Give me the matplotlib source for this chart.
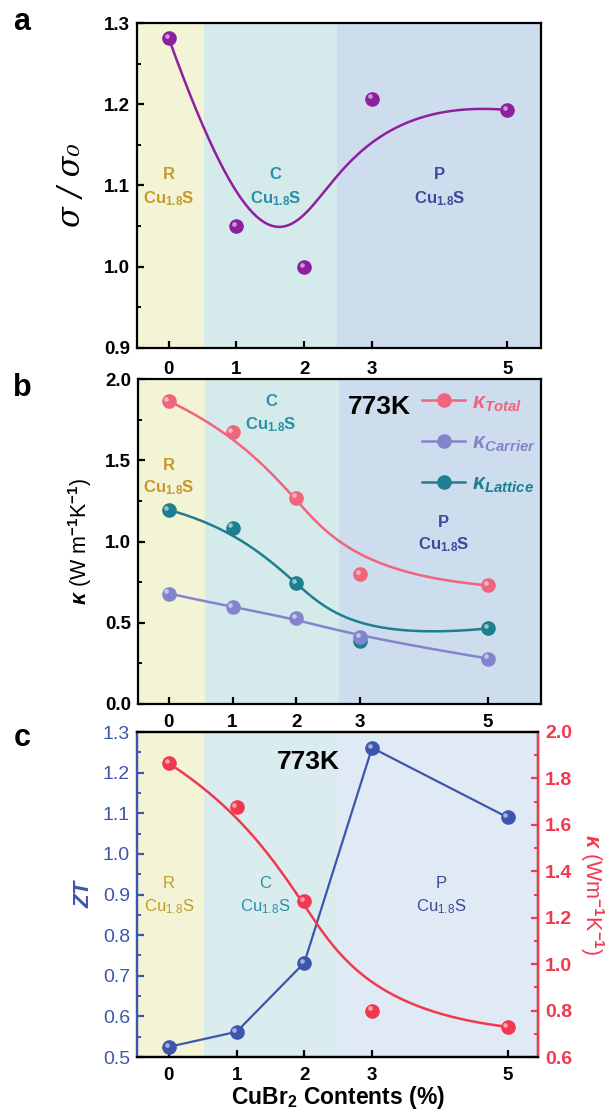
import numpy as np
import matplotlib
matplotlib.use("Agg")
from matplotlib import pyplot as plt
from matplotlib.lines import Line2D
from matplotlib.transforms import ScaledTranslation

plt.rcParams["font.family"] = ["Liberation Sans", "DejaVu Sans"]
plt.rcParams["font.weight"] = "bold"
plt.rcParams["mathtext.fontset"] = "custom"
plt.rcParams["mathtext.rm"] = "Liberation Sans:bold"
plt.rcParams["mathtext.it"] = "Liberation Sans:italic:bold"
plt.rcParams["mathtext.bf"] = "Liberation Sans:bold"

# CuBr2 content (%)
content = [0, 1, 2, 3, 5]

# panel a: normalised conductivity
sigma_ratio = [1.281, 1.050, 1.000, 1.207, 1.193]

# panel b: thermal conductivity at 773 K (W m-1 K-1)
k_total = [1.865, 1.675, 1.270, 0.800, 0.730]
k_carrier = [0.680, 0.595, 0.530, 0.410, 0.280]
k_lattice = [1.195, 1.085, 0.745, 0.390, 0.465]

# panel c: ZT at 773 K
zt = [0.525, 0.562, 0.732, 1.261, 1.090]

phase_names = ["R", "C", "P"]

# colours
c_purple = "#8e1f9e"
c_total = "#f0647c"
c_carrier = "#8385cc"
c_lattice = "#1d7f8f"
c_zt = "#3d56ad"
c_kappa = "#f2384f"
phase_text_colors = ["#c49a2c", "#2a8fa8", "#3c4a99"]
bg_ab = ["#f3f3d5", "#d5eaeb", "#cedded"]
bg_c = ["#f3f3d5", "#dbecef", "#e0eaf4"]


def bspline(xs, ys, n=300, k=3):
    """Clamped B-spline using the data points as control points (Origin style)."""
    pts = np.column_stack([xs, ys]).astype(float)
    m = len(pts)
    inner = np.linspace(0, 1, m - k + 1)[1:-1]
    knots = np.concatenate([np.zeros(k + 1), inner, np.ones(k + 1)])
    t = np.linspace(0, 1, n)
    t[-1] -= 1e-9
    N = np.zeros((n, len(knots) - 1))
    for i in range(len(knots) - 1):
        N[:, i] = (t >= knots[i]) & (t < knots[i + 1])
    for d in range(1, k + 1):
        newN = np.zeros((n, len(knots) - 1 - d))
        for i in range(len(knots) - 1 - d):
            left = 0.0
            right = 0.0
            if knots[i + d] != knots[i]:
                left = (t - knots[i]) / (knots[i + d] - knots[i]) * N[:, i]
            if knots[i + d + 1] != knots[i + 1]:
                right = (knots[i + d + 1] - t) / (knots[i + d + 1] - knots[i + 1]) * N[:, i + 1]
            newN[:, i] = left + right
        N = newN
    curve = N @ pts
    return curve[:, 0], curve[:, 1]


def balls(ax, x, y, color, size=9.5, zorder=5):
    """Sphere-like markers: a filled dot plus a small light highlight."""
    ax.plot(x, y, "o", ms=size, color=color, mec=color, zorder=zorder)
    off = ScaledTranslation(-1.6 / 72, 1.6 / 72, ax.figure.dpi_scale_trans)
    ax.plot(x, y, "o", ms=size * 0.35, color="white", alpha=0.55, mec="none",
            transform=ax.transData + off, zorder=zorder + 0.1)


def shade(ax, bounds, colors):
    for (x0, x1), col in zip(bounds, colors):
        ax.axvspan(x0, x1, color=col, lw=0, zorder=0)


def phase_label(ax, i, x, y_top, y_bot, weight="bold", size=12):
    col = phase_text_colors[i]
    ax.text(x, y_top, phase_names[i], color=col, ha="center", va="center", fontsize=size, fontweight=weight)
    sub = r"Cu$_{\mathbf{1.8}}$S" if weight == "bold" else r"Cu$_{\mathregular{1.8}}$S"
    ax.text(x, y_bot, sub, color=col, ha="center", va="center", fontsize=size, fontweight=weight)


def style_axis(ax):
    for sp in ax.spines.values():
        sp.set_linewidth(1.6)
    ax.tick_params(axis="both", which="major", direction="in", length=5, width=1.6,
                   labelsize=13.5, pad=5)
    ax.tick_params(axis="y", which="minor", direction="in", length=3, width=1.4)
    ax.tick_params(top=False, right=False)
    ax.set_xticks(content)
    for lab in ax.get_xticklabels() + ax.get_yticklabels():
        lab.set_fontweight("bold")


fig = plt.figure(figsize=(6.12, 11.13), dpi=100)
W, H = 612, 1113

# ---------------- panel a ----------------
ax_a = fig.add_axes([137 / W, 1 - 348 / H, 404 / W, 325 / H])
shade(ax_a, [(-0.5, 0.52), (0.52, 2.49), (2.49, 5.6)], bg_ab)
bx, by = bspline(content, sigma_ratio)
ax_a.plot(bx, by, color=c_purple, lw=1.8, zorder=3)
balls(ax_a, content, sigma_ratio, c_purple)
ax_a.set_xlim(-0.47, 5.5)
ax_a.set_ylim(0.9, 1.3)
ax_a.set_yticks([0.9, 1.0, 1.1, 1.2, 1.3])
ax_a.set_yticks(np.arange(0.95, 1.3, 0.1), minor=True)
style_axis(ax_a)
ax_a.tick_params(axis="x", pad=9)
for i, x in enumerate([0, 1.58, 4.0]):
    phase_label(ax_a, i, x, 1.114, 1.084)
ax_a.set_ylabel("σ / σ\u2080", fontsize=22, fontweight="normal", fontstyle="italic",
                family=["DejaVu Serif"], labelpad=12)

# ---------------- panel b ----------------
ax_b = fig.add_axes([138 / W, 1 - 704 / H, 403 / W, 325 / H])
shade(ax_b, [(-0.6, 0.57), (0.57, 2.67), (2.67, 6.0)], bg_ab)
for series, col in [(k_total, c_total), (k_lattice, c_lattice), (k_carrier, c_carrier)]:
    bx, by = bspline(content, series)
    ax_b.plot(bx, by, color=col, lw=1.8, zorder=3)
balls(ax_b, content, k_total, c_total)
balls(ax_b, content, k_lattice, c_lattice)
balls(ax_b, content, k_carrier, c_carrier, zorder=6)
ax_b.set_xlim(-0.48, 5.83)
ax_b.set_ylim(0, 2.0)
ax_b.set_yticks([0, 0.5, 1.0, 1.5, 2.0])
ax_b.set_yticks([0.25, 0.75, 1.25, 1.75], minor=True)
style_axis(ax_b)
ax_b.tick_params(axis="x", pad=7)
phase_label(ax_b, 0, 0, 1.47, 1.33)
phase_label(ax_b, 1, 1.6, 1.86, 1.72)
phase_label(ax_b, 2, 4.3, 1.12, 0.98)
ax_b.text(3.3, 1.83, "773K", fontsize=19, fontweight="bold", ha="center", va="center")
ax_b.set_ylabel(r"$\kappa$ (W m$^{\mathbf{-1}}$K$^{\mathbf{-1}}$)", fontsize=15.5, labelpad=8)

handles = [Line2D([], [], color=c, lw=1.8, marker="o", ms=9.5) for c in (c_total, c_carrier, c_lattice)]
labels = [r"$\kappa_{Total}$", r"$\kappa_{Carrier}$", r"$\kappa_{Lattice}$"]
ax_b.legend(handles, labels, loc="upper right", bbox_to_anchor=(1.02, 1.0), frameon=False,
            fontsize=15.5, handlelength=2.0, handletextpad=0.3, labelspacing=0.9,
            labelcolor=[c_total, c_carrier, c_lattice], borderaxespad=0.2)

# ---------------- panel c ----------------
ax_c = fig.add_axes([137 / W, 1 - 1057 / H, 401 / W, 325 / H])
shade(ax_c, [(-0.5, 0.52), (0.52, 2.5), (2.5, 5.6)], bg_c)
ax_c.plot(content, zt, color=c_zt, lw=1.6, zorder=3)
balls(ax_c, content, zt, c_zt)
ax_c.set_xlim(-0.47, 5.45)
ax_c.set_ylim(0.5, 1.3)
ax_c.set_yticks(np.arange(0.5, 1.31, 0.1))
ax_c.set_yticks(np.arange(0.55, 1.3, 0.1), minor=True)
style_axis(ax_c)
ax_c.tick_params(axis="x", pad=7)
ax_c.tick_params(axis="y", which="both", colors=c_zt)
ax_c.spines["left"].set_color(c_zt)
for lab in ax_c.get_yticklabels():
    lab.set_fontweight("normal")
    lab.set_fontsize(14)
for i, x in enumerate([0, 1.42, 4.02]):
    phase_label(ax_c, i, x, 0.928, 0.869, weight="normal")
ax_c.text(2.06, 1.226, "773K", fontsize=19, fontweight="bold", ha="center", va="center")
ax_c.set_ylabel("ZT", color=c_zt, fontsize=16, fontstyle="italic", fontweight="bold", labelpad=6)
ax_c.set_xlabel(r"CuBr$_{\mathbf{2}}$ Contents (%)", fontsize=16.5, fontweight="bold", labelpad=0)

ax_k = ax_c.twinx()
bx, by = bspline(content, k_total)
ax_k.plot(bx, by, color=c_kappa, lw=1.8, zorder=3)
balls(ax_k, content, k_total, c_kappa)
ax_k.set_ylim(0.6, 2.0)
ax_k.set_yticks(np.arange(0.6, 2.01, 0.2))
ax_k.set_yticks(np.arange(0.7, 2.0, 0.2), minor=True)
for sp in ax_k.spines.values():
    sp.set_linewidth(1.6)
ax_k.spines["right"].set_color(c_kappa)
ax_k.spines["left"].set_color(c_zt)
ax_k.tick_params(axis="y", which="major", direction="in", length=5, width=1.6, colors=c_kappa,
                 labelsize=14, pad=5)
ax_k.tick_params(axis="y", which="minor", direction="in", length=3, width=1.4, colors=c_kappa)
ax_k.set_ylabel(r"$\kappa$ (Wm$^{\mathbf{-1}}$K$^{\mathbf{-1}}$)", color=c_kappa, fontsize=15.5,
                rotation=-90, labelpad=24)

# panel letters
for letter, y in [("a", 22), ("b", 388), ("c", 738)]:
    fig.text(22 / W, 1 - y / H, letter, fontsize=22, fontweight="bold", ha="center", va="center")

fig.savefig("out.png", dpi=100)
